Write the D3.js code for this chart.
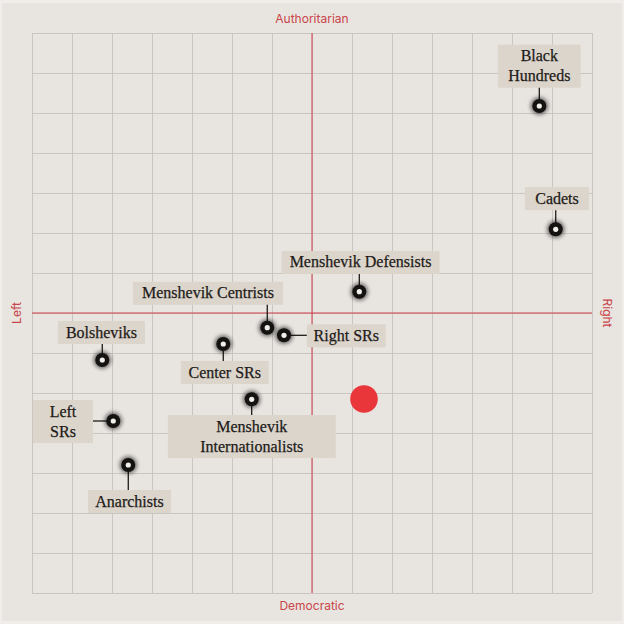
<!DOCTYPE html>
<html><head><meta charset="utf-8">
<script src="https://cdn.jsdelivr.net/npm/d3@7"></script>
<style>
html,body{margin:0;padding:0;background:#f0edea;}
svg{display:block;}
</style></head>
<body>
<svg id="chart" width="624" height="624"></svg>
<script>
// ---- data ----
const parties = ["Black Hundreds","Cadets","Menshevik Defensists","Menshevik Centrists","Right SRs","Center SRs","Bolsheviks","Menshevik Internationalists","Left SRs","Anarchists"];
const economic = [5.683, 6.093, 1.183, -1.118, -0.70, -2.218, -5.243, -1.508, -4.968, -4.593];
const social   = [5.175, 2.093, 0.533, -0.368, -0.558, -0.775, -1.175, -2.158, -2.70, -3.80];
const labelLines = [["Black","Hundreds"],["Cadets"],["Menshevik Defensists"],["Menshevik Centrists"],["Right SRs"],["Center SRs"],["Bolsheviks"],["Menshevik","Internationalists"],["Left","SRs"],["Anarchists"]];
const userPoint = [1.3, -2.15];
const axisTitles = {top:"Authoritarian", bottom:"Democratic", left:"Left", right:"Right"};
const gridTicks = d3.range(-7, 8, 1);

// ---- label layout (pixels, relative to point) ----
const boxDX = [0, 1.3, 1.2, -59.3, 62.3, 1.5, -0.8, 0.1, -50.3, 1.2];
const boxDY = [-39.8, -30.6, -29.2, -34.4, 0.5, 28.5, -27.5, 37.2, 0.5, 36.5];
const boxW  = [82.7, 64, 158, 150, 79, 87.7, 87, 167.7, 60, 83];
const side  = ["top","top","top","top","right","bottom","top","bottom","left","bottom"];

const W = 624, H = 624;
const m = {left:32, right:32, top:33, bottom:31};
const svg = d3.select("#chart");
svg.append("rect").attr("x",2).attr("y",3).attr("width",W-4).attr("height",H-6).attr("fill","#e8e4e0");

const x = d3.scaleLinear().domain([-7,7]).range([m.left, W-m.right]);
const y = d3.scaleLinear().domain([-7,7]).range([H-m.bottom, m.top]);

const defs = svg.append("defs");
const f = defs.append("filter").attr("id","glow").attr("x","-100%").attr("y","-100%").attr("width","300%").attr("height","300%");
f.append("feGaussianBlur").attr("stdDeviation",2.2);

// grid via axes
const gx = svg.append("g").attr("transform",`translate(0,${m.top})`)
  .call(d3.axisBottom(x).tickValues(gridTicks).tickSize(H-m.top-m.bottom).tickFormat(""));
const gy = svg.append("g").attr("transform",`translate(${m.left},0)`)
  .call(d3.axisRight(y).tickValues(gridTicks).tickSize(W-m.left-m.right).tickFormat(""));
[gx,gy].forEach(g=>{ g.select(".domain").remove(); g.selectAll("line").attr("stroke","#c9c5c1").attr("stroke-width",1); });

// center lines
svg.append("line").attr("x1",x(0)).attr("x2",x(0)).attr("y1",y(7)).attr("y2",y(-7)).attr("stroke","#d0404a").attr("stroke-width",1);
svg.append("line").attr("x1",x(-7)).attr("x2",x(7)).attr("y1",y(0)).attr("y2",y(0)).attr("stroke","#d0404a").attr("stroke-width",1);

// axis titles
const tfont = "Inter, 'Noto Sans', sans-serif";
const tcol = "#c9464a";
svg.append("text").attr("x",x(0)).attr("y",23).attr("text-anchor","middle").attr("font-family",tfont).attr("font-size",12).attr("fill",tcol).text(axisTitles.top);
svg.append("text").attr("x",x(0)).attr("y",610).attr("text-anchor","middle").attr("font-family",tfont).attr("font-size",12).attr("fill",tcol).text(axisTitles.bottom);
svg.append("text").attr("transform",`translate(21,${y(0)}) rotate(-90)`).attr("text-anchor","middle").attr("font-family",tfont).attr("font-size",12).attr("fill",tcol).text(axisTitles.left);
svg.append("text").attr("transform",`translate(603,${y(0)}) rotate(90)`).attr("text-anchor","middle").attr("font-family",tfont).attr("font-size",12).attr("fill",tcol).text(axisTitles.right);

// user point
svg.append("circle").attr("cx",x(userPoint[0])).attr("cy",y(userPoint[1])).attr("r",13.8).attr("fill","#e8363a");

// labels
const lfont = "'Liberation Serif', 'DejaVu Serif', serif";
const fs = 16, lh = 20, padY = 1.5;
const lg = svg.append("g");
const cg = svg.append("g");
const dg = svg.append("g");
parties.forEach((p,i)=>{
  const px = x(economic[i]), py = y(social[i]);
  const lines = labelLines[i];
  const bw = boxW[i], bh = lines.length*lh + padY*2;
  const cx = px + boxDX[i], cy = py + boxDY[i];
  const g = lg.append("g");
  g.append("rect").attr("x",cx-bw/2).attr("y",cy-bh/2).attr("width",bw).attr("height",bh).attr("fill","#dcd5cc");
  const t = g.append("text").attr("font-family",lfont).attr("font-size",fs).attr("fill","#1e1b19")
    .attr("stroke","#1e1b19").attr("stroke-width",0.25).attr("text-anchor","middle")
    .attr("x",cx).attr("y", cy - bh/2 + padY + 15);
  lines.forEach((ln,k)=> t.append("tspan").attr("x",cx).attr("dy", k===0?0:lh).text(ln));
  let lx1 = px, ly1 = py;
  if (side[i]==="top") ly1 = cy + bh/2;
  else if (side[i]==="bottom") ly1 = cy - bh/2;
  else if (side[i]==="right") lx1 = cx - bw/2;
  else lx1 = cx + bw/2;
  cg.append("line").attr("x1",lx1).attr("y1",ly1).attr("x2",px).attr("y2",py).attr("stroke","#1e1b19").attr("stroke-width",1.3);
  dg.append("circle").attr("cx",px).attr("cy",py).attr("r",8.5).attr("fill","#000").attr("opacity",0.6).attr("filter","url(#glow)");
  dg.append("circle").attr("cx",px).attr("cy",py).attr("r",7).attr("fill","#151312");
  dg.append("circle").attr("cx",px).attr("cy",py).attr("r",2.6).attr("fill","#f2eee9");
});
</script>
</body></html>
